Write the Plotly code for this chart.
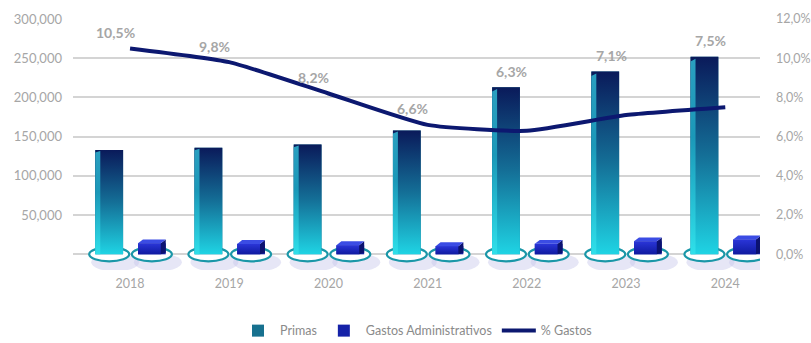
import plotly.graph_objects as go

# Data
years = ["2018", "2019", "2020", "2021", "2022", "2023", "2024"]
primas = [133000, 136000, 140000, 158000, 213000, 233000, 252000]
gastos_adm = [14000, 13300, 11500, 10400, 13400, 16500, 18900]
pct_gastos = [10.5, 9.8, 8.2, 6.6, 6.3, 7.1, 7.5]
pct_labels = ["10,5%", "9,8%", "8,2%", "6,6%", "6,3%", "7,1%", "7,5%"]
left_tickvals = [0, 50000, 100000, 150000, 200000, 250000, 300000]
left_ticktext = ["", "50,000", "100,000", "150,000", "200,000", "250,000", "300,000"]
right_tickvals = [0, 2, 4, 6, 8, 10, 12]
right_ticktext = ["0,0%", "2,0%", "4,0%", "6,0%", "8,0%", "10,0%", "12,0%"]

# Styling
Y_MAX = 300000
Y2_MAX = 12
Y_FLOOR = -20000             # room below zero for the base rings
BAR_W = 0.28
OFF_P = -0.35
OFF_G = 0.08
SIDE = 0.05                  # width of the shaded side faces
DEPTH = 5000                 # rise of the cube top face
GRAY = "#a6a6a6"
FONT = "Lato"
NAVY = "#0c1870"

idx = list(range(len(years)))
fig = go.Figure()

# Bars (legend entries and base fills)
fig.add_trace(go.Bar(
    x=idx, y=primas, name="Primas", width=BAR_W, offset=OFF_P,
    marker=dict(color="#17718f", line=dict(width=0)),
))
fig.add_trace(go.Bar(
    x=idx, y=gastos_adm, name="Gastos Administrativos", width=BAR_W, offset=OFF_G,
    marker=dict(color="#1522a8", line=dict(width=0)),
))


def poly(xs, ys, **kw):
    return go.Scatter(x=xs, y=ys, mode="lines", fill="toself", line=dict(width=0),
                      showlegend=False, hoverinfo="skip", **kw)


# Gradient shading on the Primas columns
for i, v in zip(idx, primas):
    x0 = i + OFF_P
    x1 = x0 + BAR_W
    fig.add_trace(poly(
        [x0, x1, x1, x0, x0], [0, 0, v, v, 0],
        fillgradient=dict(type="vertical",
                          colorscale=[[0, "#1fd4e4"], [0.5, "#146f97"], [1, "#0a1a5a"]]),
    ))
    # lighter left face
    fig.add_trace(poly(
        [x0, x0 + SIDE, x0 + SIDE, x0, x0], [0, 0, v * 0.99, v * 0.975, 0],
        fillgradient=dict(type="vertical",
                          colorscale=[[0, "#2fe0ea"], [0.6, "#1b98b8"], [1, "#2a9fc0"]]),
    ))

# Administrative expenses drawn as small cubes
for i, v in zip(idx, gastos_adm):
    x0 = i + OFF_G
    x1 = x0 + BAR_W
    xf = x1 - SIDE
    fig.add_trace(poly(
        [x0, xf, xf, x0, x0], [0, 0, v, v, 0],
        fillgradient=dict(type="vertical", colorscale=[[0, "#0f1aa0"], [1, "#2a35d8"]]),
    ))
    # right side face
    fig.add_trace(poly(
        [xf, x1, x1, xf, xf], [0, DEPTH * 0.4, v + DEPTH, v, 0],
        fillcolor="#0b1270",
    ))
    # top face
    fig.add_trace(poly(
        [x0, xf, x1, x0 + SIDE, x0], [v, v, v + DEPTH, v + DEPTH, v],
        fillcolor="#3b4ce4",
    ))

# % Gastos line on the secondary axis
fig.add_trace(go.Scatter(
    x=idx, y=pct_gastos, name="% Gastos", yaxis="y2", mode="lines",
    line=dict(color=NAVY, width=4, shape="spline", smoothing=0.5),
))

# Percentage labels above the line or the column, whichever is higher
for i, p, lab, v in zip(idx, pct_gastos, pct_labels, primas):
    top = max(p, v / Y_MAX * Y2_MAX)
    fig.add_annotation(
        x=i + OFF_P + BAR_W / 2 + 0.06, y=top, xref="x", yref="y2",
        text=f"<b>{lab}</b>", showarrow=False, yshift=16,
        font=dict(family=FONT, size=14, color=GRAY),
    )

# Base rings and their soft shadows
for i in idx:
    for off in (OFF_P, OFF_G):
        cx = i + off + BAR_W / 2
        fig.add_shape(
            type="circle", xref="x", yref="y", layer="between",
            xsizemode="pixel", ysizemode="pixel", xanchor=cx, yanchor=0,
            x0=-18, x1=30, y0=-17, y1=1,
            fillcolor="rgba(200,200,235,0.45)", line=dict(width=0),
        )
        fig.add_shape(
            type="circle", xref="x", yref="y", layer="between",
            xsizemode="pixel", ysizemode="pixel", xanchor=cx, yanchor=0,
            x0=-20, x1=20, y0=-7, y1=7,
            fillcolor="white", line=dict(color="#1a97a8", width=2.2),
        )

fig.update_layout(
    width=811, height=343,
    margin=dict(l=73, r=51, t=19, b=73),
    paper_bgcolor="white", plot_bgcolor="white",
    barmode="overlay",
    font=dict(family=FONT, color=GRAY, size=12),
    showlegend=True,
    legend=dict(
        orientation="h", x=0.5, xanchor="center",
        yref="container", y=0.035, yanchor="middle",
        font=dict(family=FONT, size=12.5, color="#8a8a8a"),
        traceorder="normal", itemwidth=34,
    ),
    xaxis=dict(
        range=[-0.575, 6.35], tickvals=idx, ticktext=years, automargin=False,
        showgrid=False, zeroline=False, showline=False, ticks="",
        ticklabelstandoff=4, tickfont=dict(size=12.5, color=GRAY),
    ),
    yaxis=dict(
        range=[Y_FLOOR, Y_MAX], tickvals=left_tickvals, ticktext=left_ticktext,
        showgrid=True, gridcolor="#d4d4d4", gridwidth=1.5, automargin=False,
        zeroline=False, showline=False, ticks="", ticklabelstandoff=10,
        tickfont=dict(size=13, color=GRAY),
    ),
    yaxis2=dict(
        range=[Y_FLOOR / Y_MAX * Y2_MAX, Y2_MAX], overlaying="y", side="right",
        tickvals=right_tickvals, ticktext=right_ticktext, automargin=False,
        showgrid=False, zeroline=False, showline=False, ticks="",
        ticklabelstandoff=15, tickfont=dict(size=12.5, color=GRAY),
    ),
)

fig.write_html("out.html")
